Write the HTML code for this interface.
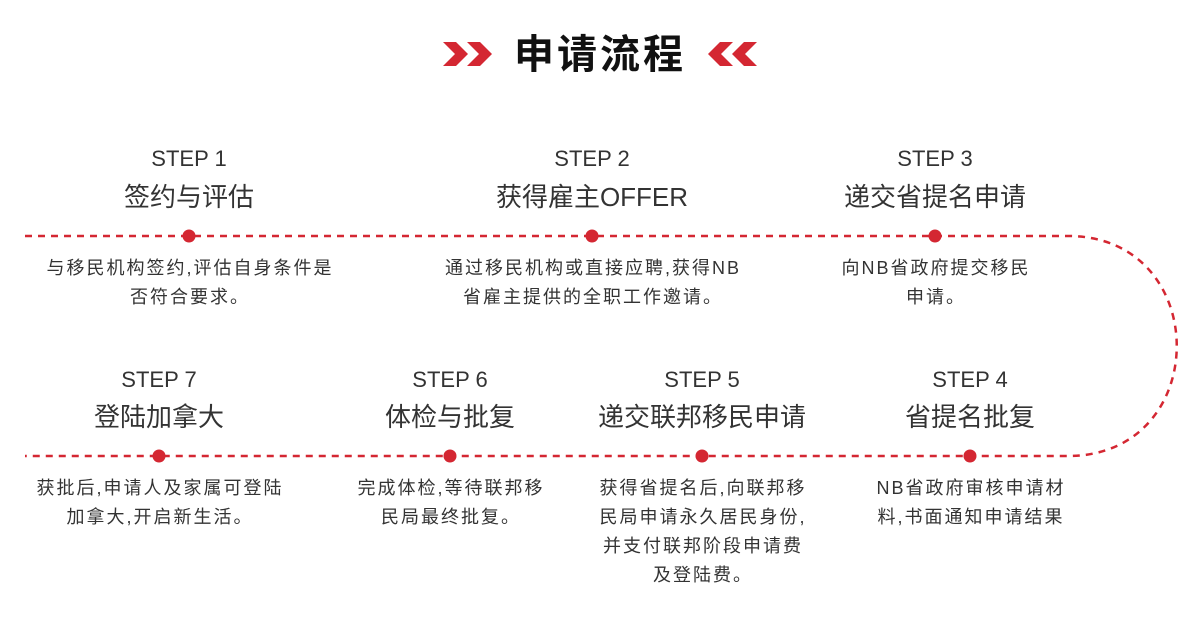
<!DOCTYPE html>
<html><head><meta charset="utf-8"><style>
body{margin:0;width:1200px;height:619px;background:#fff;position:relative;overflow:hidden;font-family:"Liberation Sans","Noto Sans CJK SC",sans-serif;color:#333}
.t{position:absolute;text-align:center;white-space:nowrap;transform:translateX(-50%)}
.s{font-size:22px;line-height:26px}
.h{font-size:26px;line-height:30px}
.d{font-size:18px;line-height:29px;letter-spacing:2px}
</style></head><body>
<svg width="1200" height="619" style="position:absolute;left:0;top:0">
<g fill="#d42732">
<polygon points="443,42 456,42 468,54 456,66 443,66 455,54"/>
<polygon points="467,42 480,42 492,54 480,66 467,66 479,54"/>
<polygon points="757,42 744,42 732,54 744,66 757,66 745,54"/>
<polygon points="733,42 720,42 708,54 720,66 733,66 721,54"/>
</g>
<path d="M25,236 L1068,236 C1213,236 1213,456 1068,456 L25,456" fill="none" stroke="#d42732" stroke-width="2.5" stroke-dasharray="7,6"/>
<g fill="#d42732">
<circle cx="189" cy="236" r="6.5"/><circle cx="592" cy="236" r="6.5"/><circle cx="935" cy="236" r="6.5"/>
<circle cx="159" cy="456" r="6.5"/><circle cx="450" cy="456" r="6.5"/><circle cx="702" cy="456" r="6.5"/><circle cx="970" cy="456" r="6.5"/>
</g>
</svg>
<div class="t" style="left:600px;top:31px;font-size:40px;font-weight:bold;line-height:48px;color:#111;letter-spacing:3px">申请流程</div>

<div class="t s" style="left:189px;top:146px">STEP 1</div>
<div class="t h" style="left:189px;top:182px">签约与评估</div>
<div class="t d" style="left:190px;top:254px">与移民机构签约,评估自身条件是<br>否符合要求。</div>

<div class="t s" style="left:592px;top:146px">STEP 2</div>
<div class="t h" style="left:592px;top:182px">获得雇主OFFER</div>
<div class="t d" style="left:593px;top:254px">通过移民机构或直接应聘,获得NB<br>省雇主提供的全职工作邀请。</div>

<div class="t s" style="left:935px;top:146px">STEP 3</div>
<div class="t h" style="left:935px;top:182px">递交省提名申请</div>
<div class="t d" style="left:936px;top:254px">向NB省政府提交移民<br>申请。</div>

<div class="t s" style="left:159px;top:367px">STEP 7</div>
<div class="t h" style="left:159px;top:402px">登陆加拿大</div>
<div class="t d" style="left:160px;top:474px">获批后,申请人及家属可登陆<br>加拿大,开启新生活。</div>

<div class="t s" style="left:450px;top:367px">STEP 6</div>
<div class="t h" style="left:450px;top:402px">体检与批复</div>
<div class="t d" style="left:451px;top:474px">完成体检,等待联邦移<br>民局最终批复。</div>

<div class="t s" style="left:702px;top:367px">STEP 5</div>
<div class="t h" style="left:702px;top:402px">递交联邦移民申请</div>
<div class="t d" style="left:703px;top:474px">获得省提名后,向联邦移<br>民局申请永久居民身份,<br>并支付联邦阶段申请费<br>及登陆费。</div>

<div class="t s" style="left:970px;top:367px">STEP 4</div>
<div class="t h" style="left:970px;top:402px">省提名批复</div>
<div class="t d" style="left:971px;top:474px">NB省政府审核申请材<br>料,书面通知申请结果</div>
</body></html>
